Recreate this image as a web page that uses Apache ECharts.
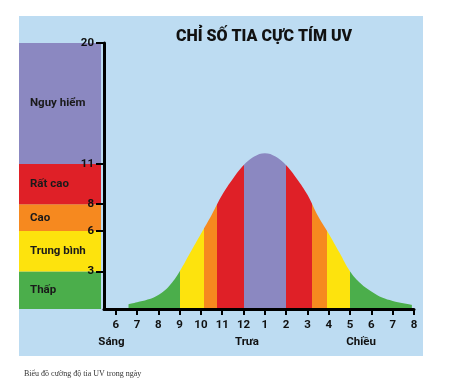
<!DOCTYPE html>
<html>
<head>
<meta charset="utf-8">
<script src="https://cdn.jsdelivr.net/npm/echarts@6/dist/echarts.min.js"></script>
<style>
html,body{margin:0;padding:0;background:#ffffff;}
#chart{width:452px;height:381px;}
</style>
</head>
<body>
<div id="chart"></div>
<script>
// ---- data ----
const titleText = 'CHỈ SỐ TIA CỰC TÍM UV';
const captionText = 'Biểu đồ cường độ tia UV trong ngày';

// UV curve: hour of day (24h) and UV index
const hours   = [6.6, 7, 7.5, 8, 8.5, 9, 9.5, 10, 10.5, 11, 11.5, 12, 12.5, 13, 13.5, 14, 14.5, 15, 15.5, 16, 16.5, 17, 17.5, 18, 18.5, 19, 19.5, 19.9];
const uvIndex = [0.55, 0.7, 0.9, 1.25, 1.9, 3.0, 4.4, 5.8, 7.2, 8.7, 9.9, 10.9, 11.55, 11.8, 11.55, 10.9, 9.9, 8.7, 7.1, 5.8, 4.4, 3.0, 2.1, 1.5, 1.05, 0.8, 0.62, 0.5];

// hours where the curve colour changes (curve crosses 3, 6, 8, 11)
const colourBreakHours = [9.0, 10.14, 10.76, 12.0, 14.0, 15.2, 15.93, 17.0];
const colourBreakBands = ['Thấp', 'Trung bình', 'Cao', 'Rất cao', 'Nguy hiểm', 'Rất cao', 'Cao', 'Trung bình', 'Thấp'];

// UV bands (legend column)
const bandNames = ['Thấp', 'Trung bình', 'Cao', 'Rất cao', 'Nguy hiểm'];
const bandLows  = [0, 3, 6, 8, 11];
const bandHighs = [3, 6, 8, 11, 20];
const bandColors = ['#4bae4b', '#fde30d', '#f6891f', '#df2027', '#8b88c1'];

// y ticks
const yTickValues = [3, 6, 8, 11, 20];

// x ticks
const xTickHours  = [6, 7, 8, 9, 10, 11, 12, 13, 14, 15, 16, 17, 18, 19, 20];
const xTickLabels = ['6', '7', '8', '9', '10', '11', '12', '1', '2', '3', '4', '5', '6', '7', '8'];

// period labels
const periodHours  = [5.8, 12.16, 17.52];
const periodLabels = ['Sáng', 'Trưa', 'Chiều'];

// ---- build chart ----
const colorOf = {};
bandNames.forEach((n, i) => colorOf[n] = bandColors[i]);

const pieces = [];
colourBreakBands.forEach((b, i) => {
  const p = { color: colorOf[b] };
  if (i > 0) p.gte = colourBreakHours[i - 1];
  if (i < colourBreakHours.length) p.lt = colourBreakHours[i];
  pieces.push(p);
});

const FONT = 'Roboto';
const xMin = 5.45, xMax = 20, yMin = 0.2, yMax = 20;
const gridMain = { left: 104, width: 310, top: 43, bottom: 72 };

const chart = echarts.init(document.getElementById('chart'), null, { renderer: 'canvas' });

const legendSeries = bandNames.map((n, i) => ({
  type: 'bar',
  name: n,
  xAxisIndex: 1,
  yAxisIndex: 1,
  stack: 'bands',
  barWidth: '100%',
  barCategoryGap: 0,
  data: [bandHighs[i] - bandLows[i]],
  itemStyle: { color: bandColors[i] },
  label: {
    show: true,
    position: 'insideLeft',
    distance: 11,
    formatter: n,
    fontFamily: FONT,
    fontWeight: 'bold',
    fontSize: 11.5,
    color: '#1a1a1a'
  },
  silent: true,
  z: 1
}));

const option = {
  animation: false,
  backgroundColor: '#ffffff',
  graphic: [{
    type: 'rect',
    shape: { x: 19, y: 16, width: 404, height: 340 },
    style: { fill: '#bddcf2' },
    z: -10,
    silent: true
  }],
  title: [{
    text: titleText,
    left: 259,
    top: 24,
    textAlign: 'center',
    textStyle: { fontFamily: FONT, fontWeight: 900, fontSize: 16, color: '#111111' }
  }, {
    text: captionText,
    left: 19,
    top: 365,
    textStyle: { fontFamily: 'Liberation Serif', fontWeight: 'normal', fontSize: 8, color: '#333333' }
  }],
  visualMap: {
    type: 'piecewise',
    show: false,
    dimension: 0,
    seriesIndex: 0,
    pieces: pieces
  },
  grid: [
    Object.assign({}, gridMain),
    { left: 19, width: 82, top: 43, bottom: 72 },
    Object.assign({}, gridMain)
  ],
  xAxis: [{
    type: 'value',
    gridIndex: 0,
    min: xMin, max: xMax,
    splitLine: { show: false },
    axisLine: { show: true, onZero: false, lineStyle: { color: '#000', width: 3 } },
    axisTick: { show: true, customValues: xTickHours, length: 6, lineStyle: { color: '#000', width: 2 } },
    axisLabel: {
      show: true, customValues: xTickHours, margin: 10,
      formatter: v => { const i = xTickHours.indexOf(Math.round(v)); return i >= 0 ? xTickLabels[i] : ''; },
      fontFamily: FONT, fontWeight: 'bold', fontSize: 11.5, color: '#111'
    },
    z: 10
  }, {
    type: 'category',
    gridIndex: 1,
    data: ['UV'],
    show: false
  }, {
    type: 'value',
    gridIndex: 2,
    min: xMin, max: xMax,
    splitLine: { show: false },
    axisLine: { show: false },
    axisTick: { show: false },
    axisLabel: {
      show: true, customValues: periodHours, margin: 27,
      formatter: v => { const i = periodHours.findIndex(h => Math.abs(h - v) < 1e-6); return i >= 0 ? periodLabels[i] : ''; },
      fontFamily: FONT, fontWeight: 'bold', fontSize: 11.5, color: '#111'
    }
  }],
  yAxis: [{
    type: 'value',
    gridIndex: 0,
    min: yMin, max: yMax,
    splitLine: { show: false },
    axisLine: { show: true, onZero: false, lineStyle: { color: '#000', width: 3 } },
    axisTick: { show: true, customValues: yTickValues, length: 8, lineStyle: { color: '#000', width: 2 } },
    axisLabel: {
      show: true, customValues: yTickValues, margin: 10,
      fontFamily: FONT, fontWeight: 'bold', fontSize: 11.5, color: '#111'
    },
    z: 10
  }, {
    type: 'value',
    gridIndex: 1,
    min: yMin, max: yMax,
    show: false
  }, {
    type: 'value',
    gridIndex: 2,
    min: yMin, max: yMax,
    show: false
  }],
  series: [{
    type: 'line',
    xAxisIndex: 0,
    yAxisIndex: 0,
    data: hours.map((h, i) => [h, uvIndex[i]]),
    smooth: 0.4,
    symbol: 'none',
    lineStyle: { width: 0 },
    areaStyle: { opacity: 1 },
    silent: true,
    z: 2
  }].concat(legendSeries)
};

chart.setOption(option);
</script>
</body>
</html>
